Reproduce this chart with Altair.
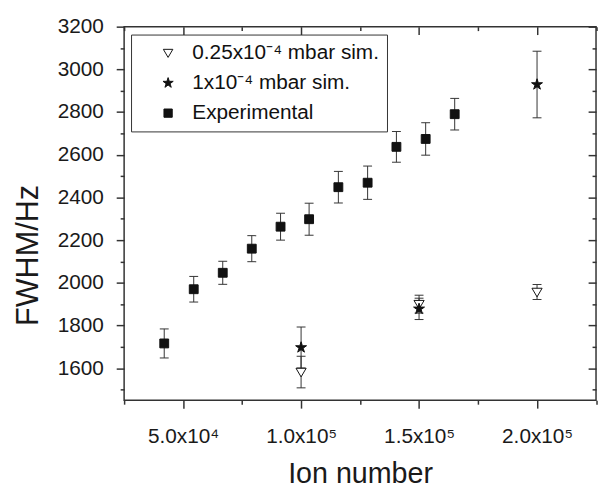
import json
import altair as alt
import pandas as pd

# ---- data ----
exp_x = [42000, 54500, 66800, 79100, 91300, 103400, 115800, 128200, 140400, 152800, 165100]
exp_y = [1716, 1970, 2047, 2160, 2263, 2298, 2448, 2469, 2637, 2674, 2790]
exp_err = [68, 60, 54, 61, 63, 75, 74, 78, 72, 76, 74]

low_x = [100000, 150000, 200000]
low_y = [1582, 1900, 1957]
low_err = [74, 42, 35]

high_x = [100000, 150000, 200000]
high_y = [1697, 1878, 2929]
high_err = [96, 50, 156]

series_names = ["0.25x10\u207b\u2074 mbar sim.", "1x10\u207b\u2074 mbar sim.", "Experimental"]

x_tick_values = [50000, 100000, 150000, 200000]
x_tick_labels = ["5.0x10\u2074", "1.0x10\u2075", "1.5x10\u2075", "2.0x10\u2075"]
x_minor_values = [25000, 75000, 125000, 175000, 225000]
y_tick_values = [1600, 1800, 2000, 2200, 2400, 2600, 2800, 3000, 3200]
y_minor_values = [1500, 1700, 1900, 2100, 2300, 2500, 2700, 2900, 3100]

X_DOM = [25000, 225000]
Y_DOM = [1450, 3200]

rows = []
for name, xs, ys, es in [
    (series_names[0], low_x, low_y, low_err),
    (series_names[1], high_x, high_y, high_err),
    (series_names[2], exp_x, exp_y, exp_err),
]:
    for xv, yv, ev in zip(xs, ys, es):
        rows.append({"series": name, "x": xv, "y": yv, "lo": yv - ev, "hi": yv + ev})
df = pd.DataFrame(rows)

FONT = "Liberation Sans"
TICKC = "#333333"

xscale = alt.Scale(domain=X_DOM, nice=False, zero=False)
yscale = alt.Scale(domain=Y_DOM, nice=False, zero=False)

label_expr = "%s[indexof(%s, datum.value)]" % (
    json.dumps(x_tick_labels, ensure_ascii=False), json.dumps(x_tick_values))

common = dict(domain=False, grid=False, tickColor=TICKC, tickWidth=1.5)

bottom_major = alt.Axis(orient="bottom", values=x_tick_values, tickSize=8, labelExpr=label_expr,
                        labelFont=FONT, labelFontSize=21, labelColor="#1a1a1a",
                        labelBaseline="alphabetic", labelPadding=35, labelFlush=False,
                        labelOverlap=False, title="Ion number", titleFont=FONT,
                        titleFontSize=29, titleFontWeight="normal", titleColor="#1a1a1a",
                        titleBaseline="alphabetic", titleY=83, **common)
bottom_minor = alt.Axis(orient="bottom", values=x_minor_values, tickSize=4, labels=False,
                        title="", **common)
top_major = alt.Axis(orient="top", values=x_tick_values, tickSize=8, offset=-8, labels=False,
                     title="", **common)
top_minor = alt.Axis(orient="top", values=x_minor_values, tickSize=4, offset=-4, labels=False,
                     title="", **common)

left_major = alt.Axis(orient="left", values=y_tick_values, format="d", tickSize=8,
                      labelFont=FONT, labelFontSize=21, labelColor="#1a1a1a", labelPadding=13,
                      labelFlush=False, labelOverlap=False, title="FWHM/Hz", titleFont=FONT,
                      titleFontSize=31, titleFontWeight="normal", titleColor="#1a1a1a",
                      titleAngle=270, titleBaseline="alphabetic", titleAlign="center",
                      titleX=-88, titleY=231, **common)
left_minor = alt.Axis(orient="left", values=y_minor_values, tickSize=4, labels=False,
                      title="", **common)
right_major = alt.Axis(orient="right", values=y_tick_values, tickSize=8, offset=-8,
                       labels=False, title="", **common)
right_minor = alt.Axis(orient="right", values=y_minor_values, tickSize=4, offset=-4,
                       labels=False, title="", **common)

base = alt.Chart(df)

rules = base.mark_rule(color="#333333", strokeWidth=1).encode(
    x=alt.X("x:Q", scale=xscale, axis=bottom_major),
    y=alt.Y("lo:Q", scale=yscale, axis=left_major),
    y2="hi:Q",
)
caps_lo = base.mark_tick(orient="horizontal", size=9, thickness=1, color="#333333", opacity=1).encode(
    x=alt.X("x:Q", scale=xscale, axis=bottom_minor),
    y=alt.Y("lo:Q", scale=yscale, axis=left_minor),
)
caps_hi = base.mark_tick(orient="horizontal", size=9, thickness=1, color="#333333", opacity=1).encode(
    x=alt.X("x:Q", scale=xscale, axis=top_major),
    y=alt.Y("hi:Q", scale=yscale, axis=right_major),
)

star = ("M0,-1.3L0.292,-0.402L1.236,-0.402L0.472,0.153L0.764,1.052L0,0.497"
        "L-0.764,1.052L-0.472,0.153L-1.236,-0.402L-0.292,-0.402Z")
tri_down = "M-1.15,-0.85L1.15,-0.85L0,1.1Z"

legend = alt.Legend(title=None, orient="none", legendX=7, legendY=8, padding=8,
                    strokeColor="#333333", fillColor="white", symbolSize=70,
                    symbolStrokeColor="black", symbolStrokeWidth=1, symbolOffset=19,
                    labelOffset=14, labelFont=FONT, labelFontSize=21, labelColor="#111111",
                    rowPadding=8.5, labelLimit=400, cornerRadius=0)

points = base.mark_point(filled=True, size=80, strokeWidth=1, opacity=1).encode(
    x=alt.X("x:Q", scale=xscale, axis=top_minor),
    y=alt.Y("y:Q", scale=yscale, axis=right_minor),
    shape=alt.Shape("series:N", scale=alt.Scale(domain=series_names,
                                                range=[tri_down, star, "square"]),
                    legend=legend),
    fill=alt.Fill("series:N", scale=alt.Scale(domain=series_names,
                                              range=["white", "#111111", "#111111"]),
                  legend=legend),
    stroke=alt.Stroke("series:N", scale=alt.Scale(domain=series_names,
                                                  range=["#111111", "#111111", "#111111"]),
                      legend=legend),
)

chart = alt.layer(rules, caps_lo, caps_hi, points).resolve_scale(
    x="independent", y="independent"
).properties(
    width=477.5, height=378,
    padding={"left": 117.5, "top": 16, "right": 2, "bottom": 92},
    autosize=alt.AutoSizeParams(type="none"),
    background="white",
).configure_view(stroke="#333333", strokeWidth=1.5)

chart.save("out.html", embed_options={"renderer": "svg", "actions": False})
